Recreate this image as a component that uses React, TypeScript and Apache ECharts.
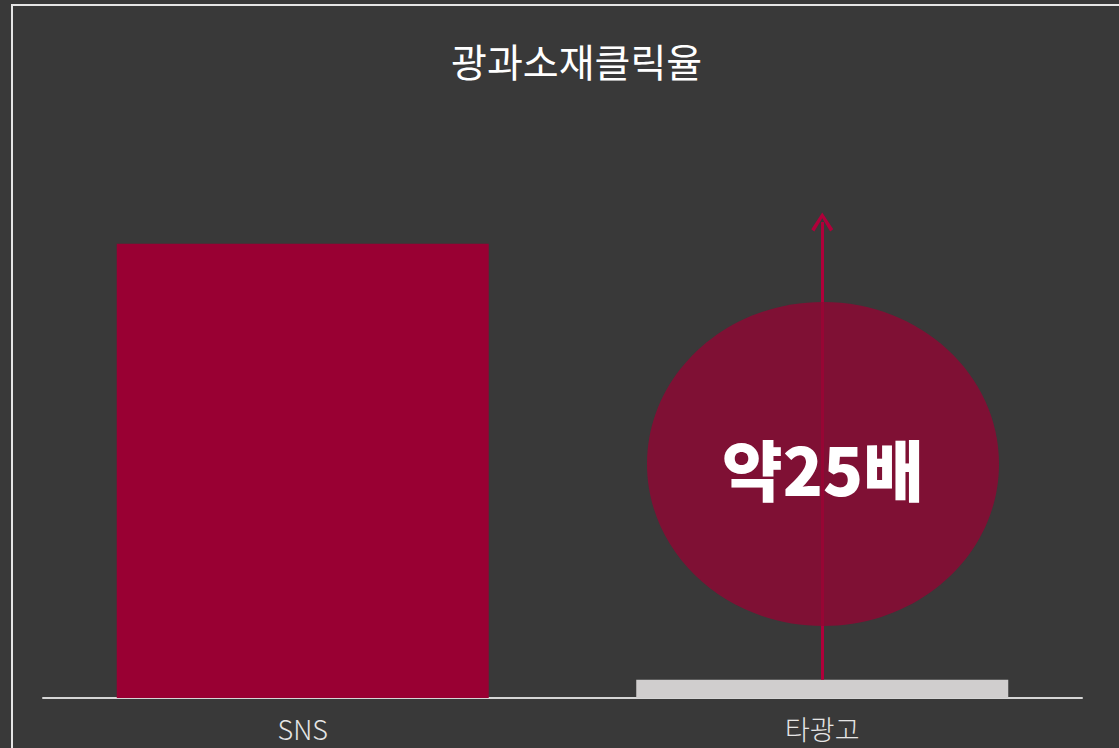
import React, { useEffect, useRef } from "react";
import * as echarts from "echarts";

const categories = ["SNS", "타광고"];
const values = [25, 1];
const barColors = ["#990033", "#d0cece"];
const titleText = "광과소재클릭율";
const badgeText = "약25배";
const arrowFrom = 1;
const arrowTo = 26.2;

const chevron = "path://M10,0 L20,14.5 L17.2,16.5 L10,5 L2.8,16.5 L0,14.5 Z";

export default function App() {
  const ref = useRef<HTMLDivElement>(null);
  useEffect(() => {
    const chart = echarts.init(ref.current!, null, { renderer: "svg" });
    chart.setOption({
      animation: false,
      backgroundColor: "#393939",
      title: {
        text: titleText,
        left: 446,
        top: 35,
        textStyle: {
          color: "#ffffff",
          fontSize: 39,
          fontWeight: "normal",
          fontFamily: "Noto Sans CJK KR",
        },
      },
      grid: { left: 43, right: 37, top: 153, bottom: 50 },
      xAxis: {
        type: "category",
        data: categories,
        axisLine: { lineStyle: { color: "#d6d6d6", width: 2 } },
        axisTick: { show: false },
        axisLabel: {
          color: "#e6e6e6",
          fontSize: 27,
          margin: 17,
          fontFamily: "Noto Sans CJK KR",
          fontWeight: 300,
        },
      },
      yAxis: { type: "value", min: 0, max: 30, show: false, splitLine: { show: false } },
      series: [
        {
          type: "bar",
          barWidth: 372,
          data: values.map((v, i) => ({ value: v, itemStyle: { color: barColors[i] } })),
          markLine: {
            silent: true,
            symbol: ["none", chevron],
            symbolSize: [22, 19],
            label: { show: false },
            lineStyle: { color: "#b0003a", width: 3, type: "solid" },
            data: [[{ coord: [categories[1], arrowFrom] }, { coord: [categories[1], arrowTo] }]],
          },
        },
      ],
      graphic: [
        { type: "line", shape: { x1: 11, y1: 5, x2: 1119, y2: 5 }, style: { stroke: "#e6e6e6", lineWidth: 2 }, z: 10 },
        { type: "line", shape: { x1: 12, y1: 4, x2: 12, y2: 748 }, style: { stroke: "#e6e6e6", lineWidth: 2 }, z: 10 },
        {
          type: "ellipse",
          shape: { cx: 823, cy: 464, rx: 176, ry: 162 },
          style: { fill: "rgba(145,6,51,0.8)" },
          z: 100,
        },
        {
          type: "text",
          x: 823,
          y: 467,
          z: 101,
          style: {
            text: badgeText,
            fill: "#ffffff",
            fontSize: 66,
            fontWeight: 900,
            fontFamily: "Noto Sans CJK KR",
            align: "center",
            verticalAlign: "middle",
          },
        },
      ],
    });
    return () => chart.dispose();
  }, []);
  return (
    <div
      ref={ref}
      style={{ position: "absolute", left: 0, top: 0, width: 1119, height: 748 }}
    />
  );
}
